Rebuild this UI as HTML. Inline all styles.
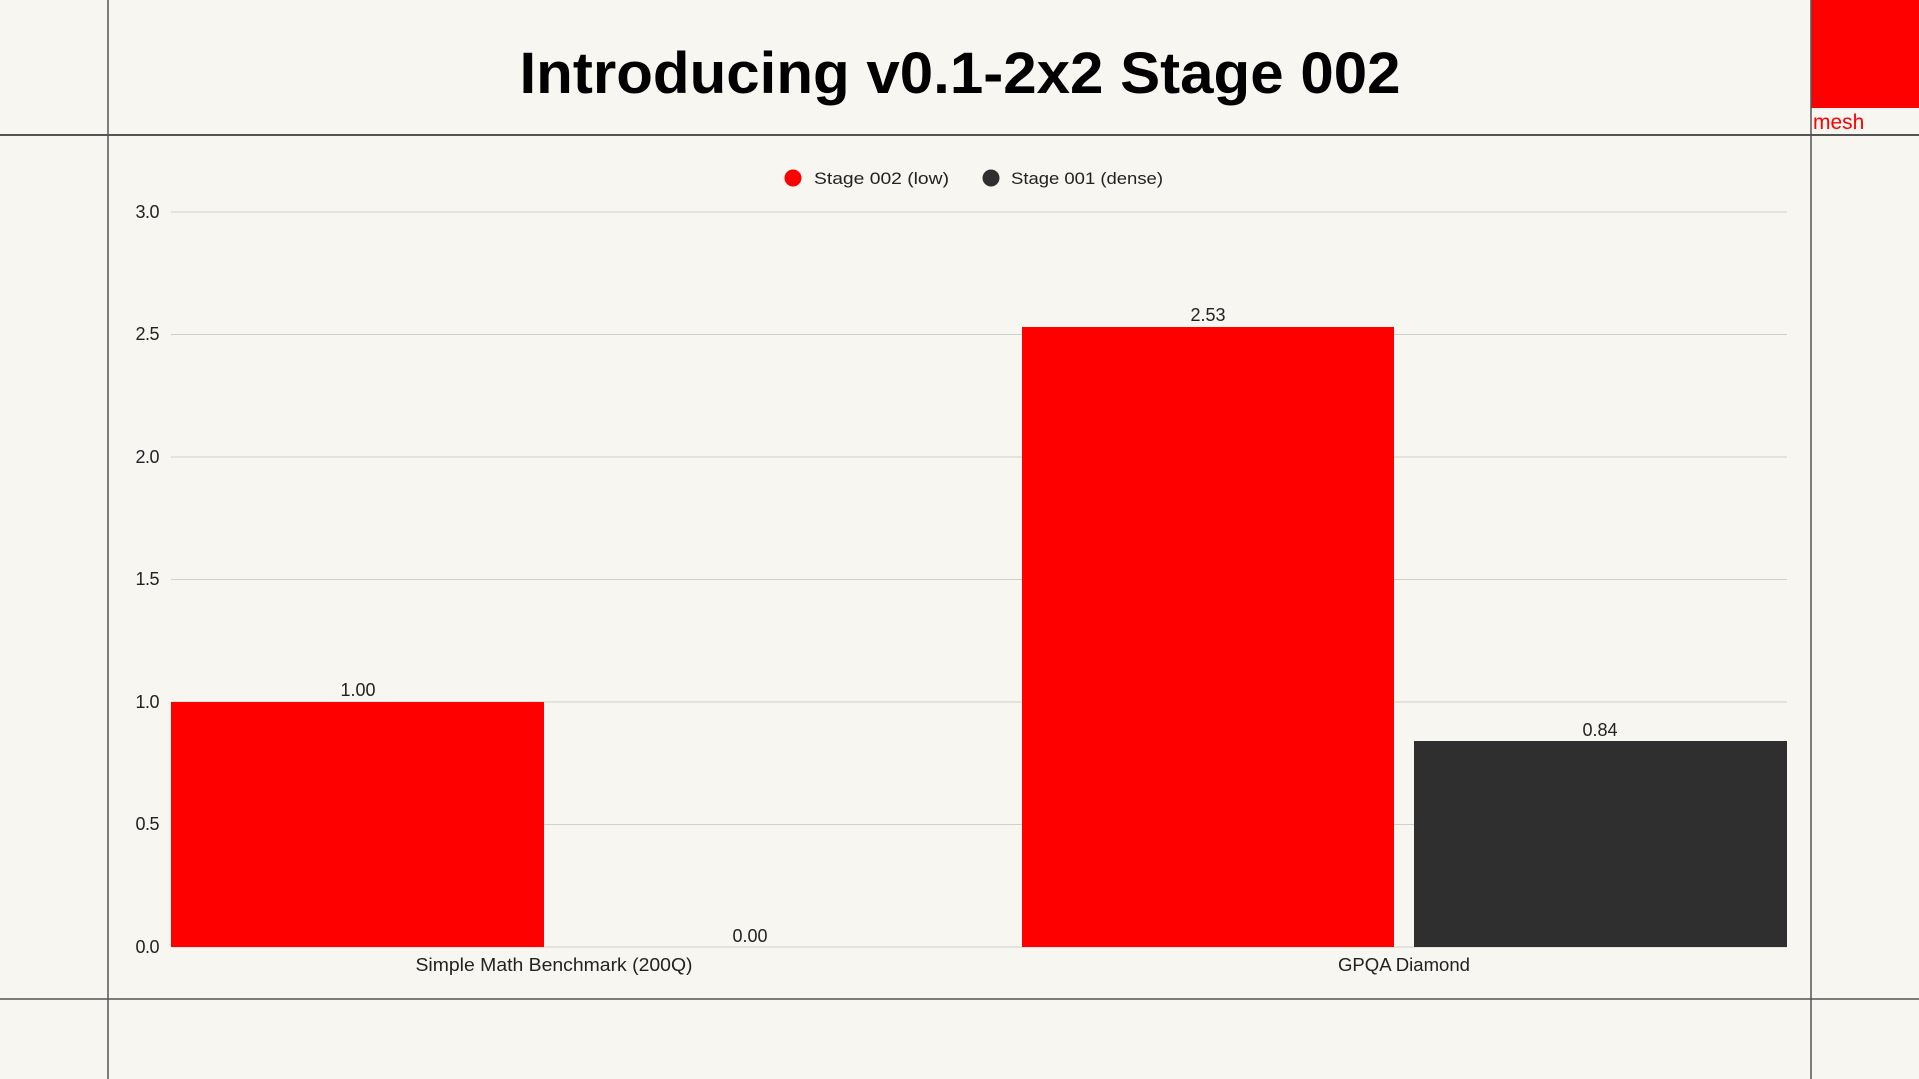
<!DOCTYPE html>
<html><head><meta charset="utf-8"><style>
html,body{margin:0;padding:0;background:#f7f6f1;}
body{width:1919px;height:1079px;overflow:hidden;position:relative;font-family:"Liberation Sans",sans-serif;}
</style></head><body>
<svg width="1919" height="1079" xmlns="http://www.w3.org/2000/svg" style="position:absolute;left:0;top:0">
<rect width="1919" height="1079" fill="#f7f6f1"/>
<rect x="1811" y="0" width="108" height="108" fill="#ff0000"/>
<text x="1813" y="129" font-size="21" fill="#ff0000" font-family="Liberation Sans, sans-serif">mesh</text>
<line x1="108" y1="0" x2="108" y2="1079" stroke="#555" stroke-width="1.5"/>
<line x1="1811" y1="0" x2="1811" y2="1079" stroke="#555" stroke-width="1.5"/>
<line x1="0" y1="135" x2="1919" y2="135" stroke="#555" stroke-width="2"/>
<line x1="0" y1="999" x2="1919" y2="999" stroke="#555" stroke-width="1.5"/>
<text x="960" y="93" text-anchor="middle" font-size="58" font-weight="bold" fill="#000" textLength="881" lengthAdjust="spacingAndGlyphs" font-family="Liberation Sans, sans-serif">Introducing v0.1-2x2 Stage 002</text>
<circle cx="793" cy="178" r="8.5" fill="#ff0000"/>
<text x="814" y="184" font-size="17" fill="#222" textLength="135" lengthAdjust="spacingAndGlyphs">Stage 002 (low)</text>
<circle cx="991" cy="178" r="8.5" fill="#2f2f2f"/>
<text x="1011" y="184" font-size="17" fill="#222" textLength="152" lengthAdjust="spacingAndGlyphs">Stage 001 (dense)</text>
<g stroke="#cfcfcb" stroke-width="1">
<line x1="171" y1="212" x2="1787" y2="212"/>
<line x1="171" y1="334.5" x2="1787" y2="334.5"/>
<line x1="171" y1="457" x2="1787" y2="457"/>
<line x1="171" y1="579.5" x2="1787" y2="579.5"/>
<line x1="171" y1="702" x2="1787" y2="702"/>
<line x1="171" y1="824.5" x2="1787" y2="824.5"/>
<line x1="171" y1="947" x2="1787" y2="947"/>
</g>
<g font-size="18" fill="#222" text-anchor="end" letter-spacing="-0.5">
<text x="159" y="218">3.0</text>
<text x="159" y="340">2.5</text>
<text x="159" y="463">2.0</text>
<text x="159" y="585">1.5</text>
<text x="159" y="708">1.0</text>
<text x="159" y="830">0.5</text>
<text x="159" y="953">0.0</text>
</g>
<rect x="171" y="702" width="373" height="245" fill="#ff0000"/>
<rect x="1022" y="327" width="372" height="620" fill="#ff0000"/>
<rect x="1414" y="741" width="373" height="206" fill="#2f2f2f"/>
<g font-size="18" fill="#222" text-anchor="middle">
<text x="358" y="696">1.00</text>
<text x="750" y="942">0.00</text>
<text x="1208" y="321">2.53</text>
<text x="1600" y="736">0.84</text>
<text x="554" y="971" textLength="277" lengthAdjust="spacingAndGlyphs">Simple Math Benchmark (200Q)</text>
<text x="1404" y="971" textLength="132" lengthAdjust="spacingAndGlyphs">GPQA Diamond</text>
</g>
</svg>
</body></html>
